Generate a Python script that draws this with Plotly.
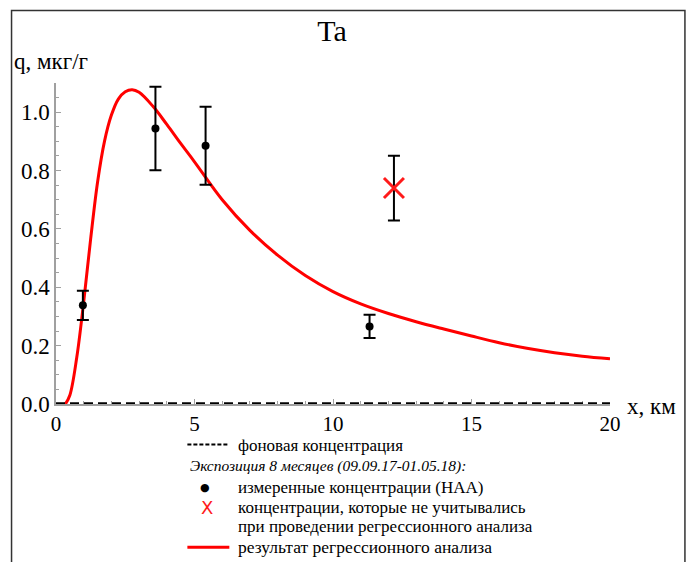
import plotly.graph_objects as go

# ---- data ----
curve_x = [0.34, 0.5, 0.75, 1.0, 1.25, 1.5, 1.75, 2.0, 2.25, 2.5, 2.75, 3.0, 3.5, 4.0, 4.5,
           5, 6, 7, 8, 9, 10, 11, 12, 13, 14, 15, 16, 17, 18, 19, 20]
curve_y = [0.0, 0.03, 0.16, 0.35, 0.565, 0.76, 0.90, 0.99, 1.045, 1.07, 1.077, 1.068, 1.02, 0.958, 0.893,
           0.83, 0.70, 0.595, 0.51, 0.44, 0.385, 0.343, 0.31, 0.282, 0.257, 0.233, 0.21, 0.191, 0.176, 0.164, 0.155]

meas_x = [0.97, 3.59, 5.40, 11.32]
meas_y = [0.338, 0.944, 0.885, 0.266]
meas_err = [0.05, 0.143, 0.134, 0.04]

excl_x = [12.2]
excl_y = [0.74]
excl_err = [0.111]

bg_x = [0, 20]
bg_y = [0, 0]

x_ticks = [0, 5, 10, 15, 20]
y_ticks = [0.0, 0.2, 0.4, 0.6, 0.8, 1.0]

title_text = "Ta"
ylabel = "q, мкг/г"
xlabel = "x, км"
leg_bg = "фоновая концентрация"
leg_head = "Экспозиция 8 месяцев (09.09.17-01.05.18):"
leg_meas = "измеренные концентрации (НАА)"
leg_excl1 = "концентрации, которые не учитывались"
leg_excl2 = "при проведении регрессионного анализа"
leg_fit = "результат регрессионного анализа"

# ---- layout geometry (pixels) ----
W, H = 688, 562
L, R = 55.5, 610.0
T, B = 82.75, 404.5
PW, PH = R - L, B - T

def px(x):
    return (x - L) / PW

def py(y):
    return (B - y) / PH

FONT = "Liberation Serif"

fig = go.Figure()

fig.add_trace(go.Scatter(x=curve_x, y=curve_y, mode="lines",
                         line=dict(color="#ff0000", width=3, shape="spline", smoothing=1.0),
                         showlegend=False, cliponaxis=False))
fig.add_trace(go.Scatter(x=bg_x, y=bg_y, mode="lines",
                         line=dict(color="black", width=3.5, dash="9px,5px"),
                         hoverinfo="skip", showlegend=False, cliponaxis=False))
fig.add_trace(go.Scatter(x=excl_x, y=excl_y, mode="markers",
                         marker=dict(symbol="x-thin", size=20, line=dict(color="#ff1a1a", width=3)),
                         error_y=dict(type="data", array=excl_err, color="black", thickness=2, width=6),
                         showlegend=False, cliponaxis=False))
fig.add_trace(go.Scatter(x=meas_x, y=meas_y, mode="markers",
                         marker=dict(symbol="circle", size=8, color="black"),
                         error_y=dict(type="data", array=meas_err, color="black", thickness=2, width=6),
                         showlegend=False, cliponaxis=False))

axis_common = dict(showgrid=False, zeroline=False, showline=True, linecolor="#a0a0a0", linewidth=1.5,
                   ticks="inside", tickcolor="#a0a0a0", tickwidth=1, layer="below traces")

fig.update_xaxes(range=[0, 20], tickvals=x_ticks, ticklen=5,
                 tickfont=dict(family=FONT, size=21, color="black"),
                 minor=dict(dtick=1, ticks="inside", ticklen=3, tickcolor="#a0a0a0"),
                 **axis_common)
fig.update_yaxes(range=[0, 1.1], tickvals=y_ticks, ticktext=[f"{v:.1f}" for v in y_ticks], ticklen=5,
                 tickfont=dict(family=FONT, size=23, color="black"),
                 minor=dict(dtick=0.05, ticks="inside", ticklen=3, tickcolor="#a0a0a0"),
                 **axis_common)

shapes = []
shapes.append(dict(type="rect", xref="paper", yref="paper",
                   x0=px(11), x1=px(685), y0=py(620), y1=py(10),
                   line=dict(color="#333333", width=1.5)))
shapes.append(dict(type="line", xref="paper", yref="paper",
                   x0=px(187), x1=px(229), y0=py(445), y1=py(445),
                   line=dict(color="black", width=2, dash="4px,2px")))
shapes.append(dict(type="line", xref="paper", yref="paper",
                   x0=px(187), x1=px(229), y0=py(548), y1=py(548),
                   line=dict(color="#ff0000", width=3)))

ann = []
def text(x, y, s, size=17, anchor="left", color="black", italic=False, family=FONT):
    f = dict(family=family, size=size, color=color)
    if italic:
        f["style"] = "italic"
    ann.append(dict(xref="paper", yref="paper", x=px(x), y=py(y), text=s, showarrow=False,
                    xanchor=anchor, yanchor="middle", font=f))

text(11, 61, ylabel, size=23)
text(625, 407, xlabel, size=23)
text(236, 446.5, leg_bg)
text(188, 467, leg_head, size=15.5, italic=True)
text(205, 488, "●", size=11, anchor="center", family="DejaVu Sans")
text(236, 488, leg_meas)
text(207, 508, "X", size=18, anchor="center", color="#ff1a1a", family="DejaVu Sans")
text(236, 508, leg_excl1)
text(236, 527, leg_excl2)
text(236, 548, leg_fit, size=17.5)

fig.update_layout(
    width=W, height=H,
    margin=dict(l=L, r=W - R, t=T, b=H - B),
    paper_bgcolor="white", plot_bgcolor="white",
    font=dict(family=FONT),
    title=dict(text=title_text, x=332 / W, xanchor="center", y=1 - 30 / H, yanchor="middle",
               yref="container", font=dict(family=FONT, size=30, color="black")),
    shapes=shapes, annotations=ann, showlegend=False,
)

fig.write_html("out.html")
